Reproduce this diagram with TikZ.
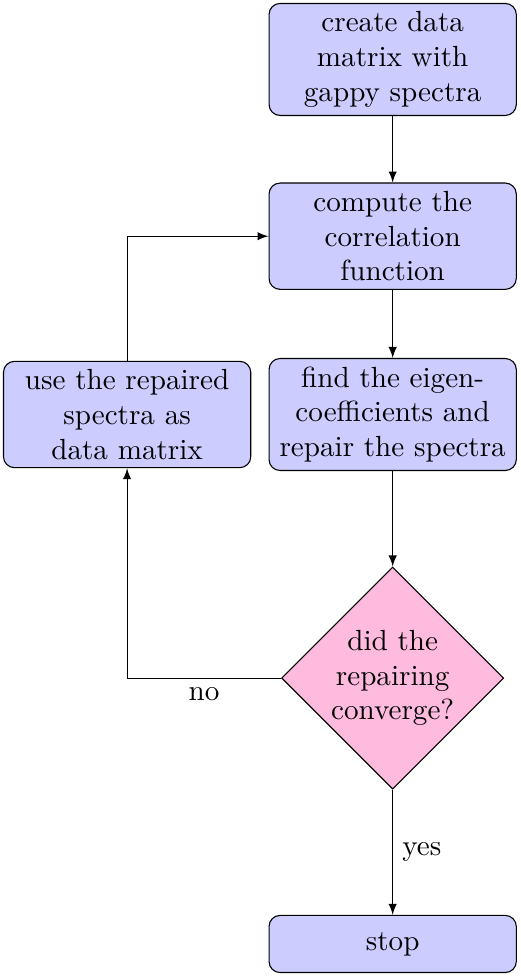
\documentclass[tikz,border=0pt]{standalone}
\usepackage{amsmath}
\usepackage{xcolor}
\usepackage{tikz}
\usetikzlibrary{arrows,positioning,shapes.geometric}
\definecolor{decisionpink}{RGB}{255,187,221}

\begin{document}
\begin{tikzpicture}
[auto, font=\fontsize{10.6}{12.6}\selectfont,
% STYLES
% The block style is used for every step of the repair loop
block/.style={rectangle, draw, fill=blue!20, rounded corners, text width=2.95cm, inner sep=3pt, align=center},
% The decision style is used for the convergence test
decision/.style={diamond, draw, fill=decisionpink, text width=1.6cm, inner sep=0pt, align=center, minimum width=2.84cm, minimum height=2.84cm},
% The line style is used for the links between steps
line/.style={draw, -latex}]
\useasboundingbox (0,0) rectangle (6.65,-12.49);
% Draw steps
\node [block] (init) at (5.02,-0.76) {create data\\ matrix with\\ gappy spectra};
\node [block, below=0.85cm of init] (corr) {compute the\\ correlation\\ function};
\node [block, below=0.87cm of corr] (repair) {find the eigen-\\ coefficients and\\ repair the spectra};
\node [block, left=0.22cm of repair] (update) {use the repaired\\ spectra as\\ data matrix};
\node [decision, below=1.22cm of repair] (conv) {did the\\ repairing\\ converge?};
\node [block, below=1.6cm of conv, minimum height=0.73cm] (stop) {stop};
%%%%%%%%%%%%%%%
% Draw the links between steps
\path [line] (init) -- (corr);
\path [line] (corr) -- (repair);
\path [line] (repair) -- (conv);
\path [line] (conv) -- node [right] {yes} (stop);
\path [line] (conv) -| node [below, pos=0.25] {no} (update);
\path [line] (update) |- (corr);
\end{tikzpicture}
\end{document}
